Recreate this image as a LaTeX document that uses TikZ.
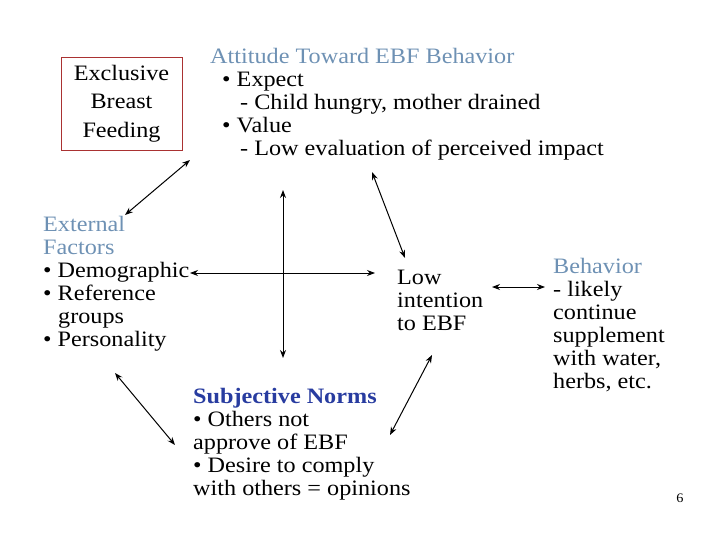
\documentclass[tikz,border=0pt]{standalone}
\usepackage{fontspec}
\setmainfont{Liberation Serif}[FakeStretch=1.1]
\usetikzlibrary{arrows.meta}
\definecolor{head}{RGB}{110,145,180}
\definecolor{subj}{RGB}{40,60,160}
\definecolor{boxred}{RGB}{170,50,50}
\begin{document}
\begin{tikzpicture}[x=1pt,y=-1pt,
  txt/.style={anchor=north west,inner sep=0pt,align=left,font=\fontsize{22}{23}\selectfont},
  link/.style={{Stealth[length=8pt,width=6pt]}-{Stealth[length=8pt,width=6pt]},line width=1pt}]
\useasboundingbox (0,0) rectangle (720,540);
\node[draw=boxred,line width=0.8pt,minimum width=121pt,minimum height=93pt,align=center,inner sep=0pt,font=\fontsize{22}{28.5}\selectfont] (ebf) at (121.5,103.5) {Exclusive\\Breast\\Feeding};
\node[txt] (att) at (210,48) {\textcolor{head}{Attitude Toward EBF Behavior}\\\hspace{12pt}• Expect\\\hspace{30pt}- Child hungry, mother drained\\\hspace{12pt}• Value\\\hspace{30pt}- Low evaluation of perceived impact};
\node[txt] (ext) at (43,216) {\textcolor{head}{External}\\\textcolor{head}{Factors}\\• Demographic\\• Reference\\\hspace{15pt}groups\\• Personality};
\node[txt] (low) at (397,270) {Low\\intention\\to EBF};
\node[txt] (beh) at (553,258) {\textcolor{head}{Behavior}\\- likely\\continue\\supplement\\with water,\\herbs, etc.};
\node[txt] (subj) at (193,388) {\textbf{\color{subj}Subjective Norms}\\• Others not\\approve of EBF\\• Desire to comply\\with others = opinions};
\node[anchor=center,inner sep=0pt,font=\fontsize{13}{15}\selectfont] (pg) at (680,498) {6};
\coordinate (a1) at (125,215); \coordinate (a2) at (190,160);
\coordinate (v1) at (283,190); \coordinate (v2) at (283,358);
\coordinate (h1) at (190,273); \coordinate (h2) at (375,273);
\coordinate (b1) at (372,172); \coordinate (b2) at (405,258);
\coordinate (c1) at (492,287); \coordinate (c2) at (545,287);
\coordinate (d1) at (115,373); \coordinate (d2) at (175,445);
\coordinate (e1) at (390,435); \coordinate (e2) at (432,355);
\draw[link] (a1) -- (a2);
\draw[link] (v1) -- (v2);
\draw[link] (h1) -- (h2);
\draw[link] (b1) -- (b2);
\draw[link] (c1) -- (c2);
\draw[link] (d1) -- (d2);
\draw[link] (e1) -- (e2);
\end{tikzpicture}
\end{document}
